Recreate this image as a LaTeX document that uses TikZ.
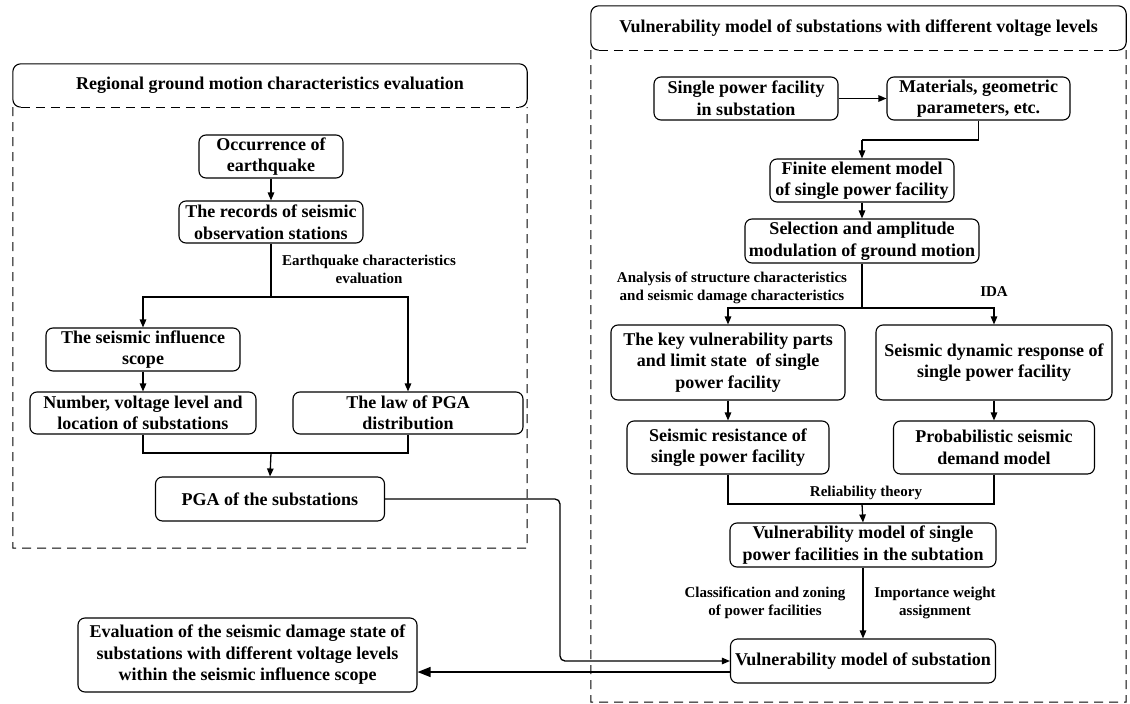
\documentclass[tikz,border=0pt]{standalone}
\usepackage{fontspec}
\setmainfont{Liberation Serif}
\usetikzlibrary{arrows.meta,calc}
\newcommand\myboxfont{\fontsize{18}{21.5}\selectfont\bfseries}
\newcommand\mylabfont{\fontsize{15}{18}\selectfont\bfseries}
\begin{document}
\begin{tikzpicture}[x=1pt,y=-1pt,
  box/.style={draw, line width=1.1pt, rounded corners=7pt, align=center, inner sep=1pt, font=\myboxfont},
  hdr/.style={align=center, inner sep=0pt, font=\myboxfont},
  lab/.style={align=center, inner sep=0pt, font=\mylabfont},
  conn/.style={line width=1.3pt},
  arr/.style={line width=1.3pt, -{Triangle[length=8pt,width=6.5pt]}},
  bigarr/.style={line width=1.3pt, -{Triangle[length=13pt,width=10pt]}},
  frame/.style={line width=1.1pt, rounded corners=8pt},
  dashline/.style={line width=1pt, dash pattern=on 9pt off 6pt}
]
\useasboundingbox (0,0) rectangle (1130,704);

% ---------- left panel ----------
\node[hdr, minimum width=514pt, minimum height=43pt] (hL) at (270,85.5) {Regional ground motion characteristics evaluation};
\draw[frame] ($(hL.south west)+(8,0)$) -| (hL.north west) -| (hL.south east) -- ++(-8,0);
\coordinate (pL) at (527,548);
\draw[dashline] ($(hL.south west)+(8,0)$) -- ($(hL.south east)+(-8,0)$);
\draw[dashline] (hL.south west) |- (pL) -- (hL.south east);

\node[box, minimum width=144pt, minimum height=43pt] (occ) at (271,156.5) {Occurrence of\\earthquake};
\node[box, minimum width=184pt, minimum height=42pt] (rec) at (271,222) {The records of seismic\\observation stations};
\node[box, minimum width=194pt, minimum height=43pt] (inf) at (143,349.5) {The seismic influence\\scope};
\node[box, minimum width=226pt, minimum height=42pt] (num) at (143,413) {Number, voltage level and\\location of substations};
\node[box, minimum width=230pt, minimum height=42pt] (law) at (408,413) {The law of PGA\\distribution};
\node[box, minimum width=229pt, minimum height=44pt] (pga) at (270,499) {PGA of the substations};
\node[lab] (lab1) at (369,269) {Earthquake characteristics\\evaluation};

\coordinate (j1) at (271,297);
\coordinate (j2) at (271,453);
\draw[arr] (occ) -- (rec);
\draw[conn] (rec.south) -- (j1);
\draw[arr] (j1) -| (inf.north);
\draw[arr] (j1) -| (law.north);
\draw[arr] (inf) -- (num);
\draw[conn] (num.south) |- (j2);
\draw[conn] (law.south) |- (j2);
\draw[arr] (j2) -- (pga.north);

% ---------- right panel ----------
\node[hdr, minimum width=535pt, minimum height=44pt] (hR) at (858.5,28) {Vulnerability model of substations with different voltage levels};
\draw[frame] ($(hR.south west)+(8,0)$) -| (hR.north west) -| (hR.south east) -- ++(-8,0);
\coordinate (pR) at (1126,702);
\draw[dashline] ($(hR.south west)+(8,0)$) -- ($(hR.south east)+(-8,0)$);
\draw[dashline] (hR.south west) |- (pR) -- (hR.south east);

\node[box, minimum width=184pt, minimum height=43pt] (sgl) at (746,98.5) {Single power facility\\in substation};
\node[box, minimum width=183pt, minimum height=43pt] (mat) at (978.5,98.5) {Materials, geometric\\parameters, etc.};
\node[box, minimum width=184pt, minimum height=43pt] (fin) at (862,180.5) {Finite element model\\of single power facility};
\node[box, minimum width=234pt, minimum height=44pt] (sel) at (862,241) {Selection and amplitude\\modulation of ground motion};
\node[box, minimum width=234pt, minimum height=75pt] (key) at (728,362.5) {The key vulnerability parts\\and limit state\ \ of single\\power facility};
\node[box, minimum width=236pt, minimum height=75pt] (dyn) at (994,362.5) {Seismic dynamic response of\\single power facility};
\node[box, minimum width=202pt, minimum height=53pt] (res) at (728,447.5) {Seismic resistance of\\single power facility};
\node[box, minimum width=201pt, minimum height=53pt] (prob) at (994,447.5) {Probabilistic seismic\\demand model};
\node[box, minimum width=266pt, minimum height=44pt] (vsin) at (863,545) {Vulnerability model of single\\power facilities in the subtation};
\node[box, minimum width=265pt, minimum height=44pt] (vsub) at (863,661) {Vulnerability model of substation};

\node[lab] (lab2) at (732,288) {Analysis of structure characteristics\\and seismic damage characteristics};
\node[lab] (lab3) at (994,292) {IDA};
\node[lab] (lab4) at (866,493) {Reliability theory};
\node[lab] (lab5) at (765,603) {Classification and zoning\\of power facilities};
\node[lab] (lab6) at (935,603) {Importance weight\\assignment};

\coordinate (m1) at (862,140);
\coordinate (s1) at (862,308);
\coordinate (r1) at (862,504);
\draw[arr] (sgl) -- (mat);
\draw[conn] (mat.south) |- (m1);
\draw[arr] (m1) -- (fin.north);
\draw[arr] (fin) -- (sel);
\draw[conn] (sel.south) -- (s1);
\draw[arr] (s1) -| (key.north);
\draw[arr] (s1) -| (dyn.north);
\draw[arr] (key) -- (res);
\draw[arr] (dyn) -- (prob);
\draw[conn] (res.south) |- (r1);
\draw[conn] (prob.south) |- (r1);
\draw[arr] (r1) -- (vsin.north);
\draw[arr] (vsin) -- (vsub);

% ---------- bottom ----------
\node[box, minimum width=339pt, minimum height=74pt] (eval) at (247.5,655) {Evaluation of the seismic damage state of\\substations with different voltage levels\\within the seismic influence scope};

\coordinate (bend) at (560,661);
\draw[arr, rounded corners=5pt] (pga.east) -| (bend) -- (vsub.west);
\coordinate (vout) at ($(vsub.west)+(0,11)$);
\draw[bigarr] (vout) -- (vout -| eval.east);
\end{tikzpicture}
\end{document}
